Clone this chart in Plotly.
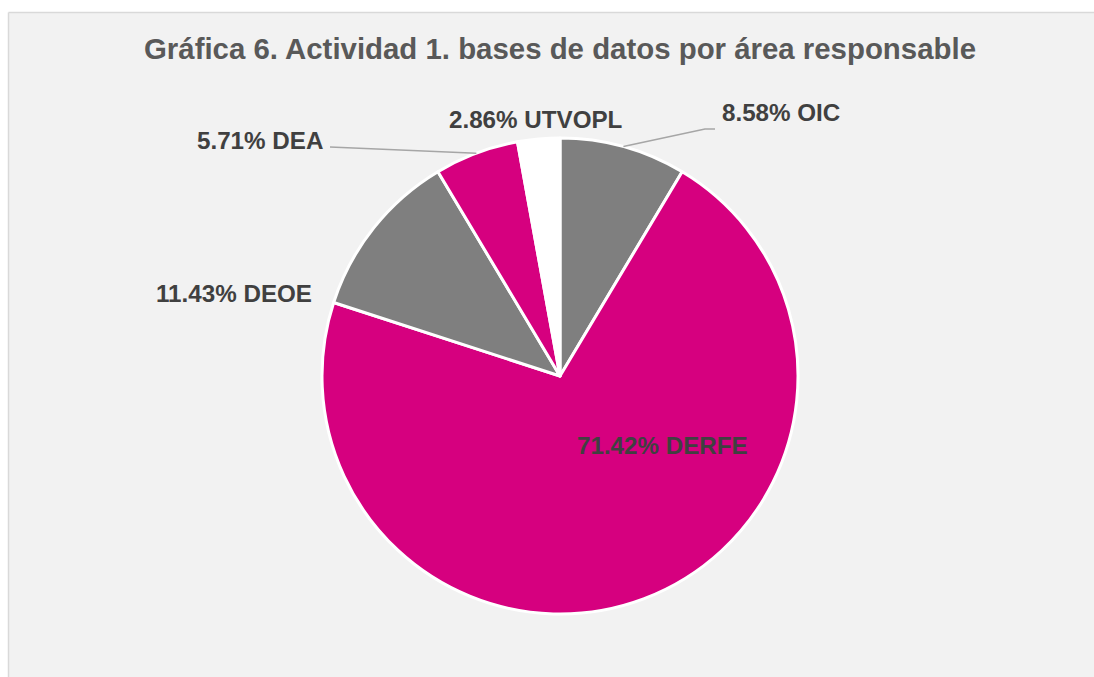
import math
import plotly.graph_objects as go

# ---- data ----
areas = ["OIC", "DERFE", "DEOE", "DEA", "UTVOPL"]
percentages = [8.58, 71.42, 11.43, 5.71, 2.86]
slice_colors = ["#7f7f7f", "#d6007f", "#7f7f7f", "#d6007f", "#ffffff"]
title_text = "Gráfica 6. Actividad 1. bases de datos por área responsable"

# ---- layout constants (page pixels) ----
W, H = 1094, 677
CX, CY, R = 560, 376, 238          # pie centre and radius
label_font = dict(family="Arial, Liberation Sans", size=24.2, color="#404040", weight="bold")

fig = go.Figure()
fig.add_trace(go.Pie(
    labels=areas,
    values=percentages,
    sort=False,
    direction="clockwise",
    rotation=0,
    marker=dict(colors=slice_colors, line=dict(color="#ffffff", width=3)),
    textinfo="none",
    hoverinfo="skip",
    showlegend=False,
    domain=dict(x=[(CX - R) / W, (CX + R) / W],
                y=[(H - CY - R) / H, (H - CY + R) / H]),
))

def px(x, y):
    """page coords -> paper coords"""
    return x / W, 1 - y / H

def mid_anchor(i):
    total = sum(percentages)
    start = sum(percentages[:i])
    frac = (start + percentages[i] / 2) / total
    ang = 2 * math.pi * frac
    return CX + R * math.sin(ang), CY - R * math.cos(ang)

# label placements in page coords: (x, y, xanchor)
label_pos = {
    "OIC": (720, 112, "left"),
    "DERFE": (662, 445, "center"),
    "DEOE": (314, 294, "right"),
    "DEA": (325, 140, "right"),
    "UTVOPL": (536, 120, "center"),
}

annotations = []
for i, name in enumerate(areas):
    x, y, xa = label_pos[name]
    ax, ay = px(x, y)
    annotations.append(dict(
        x=ax, y=ay, xref="paper", yref="paper", xanchor=xa, yanchor="middle",
        text=f"{percentages[i]:.2f}% {name}", showarrow=False, font=label_font,
    ))

tx, ty = px(560, 49)
annotations.append(dict(
    x=tx, y=ty, xref="paper", yref="paper", xanchor="center", yanchor="middle",
    text=title_text, showarrow=False,
    font=dict(family="Arial, Liberation Sans", size=29.4, color="#595959", weight="bold"),
))

lx, ytop = px(8.5, 12.5)
shapes = [
    # white strips above and left of the chart frame
    dict(type="rect", xref="paper", yref="paper", layer="below",
         x0=0, x1=1, y0=ytop, y1=1, fillcolor="#ffffff", line=dict(width=0)),
    dict(type="rect", xref="paper", yref="paper", layer="below",
         x0=0, x1=lx, y0=0, y1=1, fillcolor="#ffffff", line=dict(width=0)),
    # frame edges (top and left)
    dict(type="line", xref="paper", yref="paper", layer="below",
         x0=lx, x1=1, y0=ytop, y1=ytop, line=dict(color="#d9d9d9", width=1.5)),
    dict(type="line", xref="paper", yref="paper", layer="below",
         x0=lx, x1=lx, y0=0, y1=ytop, line=dict(color="#d9d9d9", width=1.5)),
]

# leader lines (anchored at slice mid-angles)
leaders = {
    "OIC": [(705, 129), (715, 129)],
    "DEA": [(330, 147)],
}
for name, pts in leaders.items():
    i = areas.index(name)
    sx, sy = mid_anchor(i)
    path_pts = [(sx, sy)] + pts
    d = "M " + " L ".join(f"{px(x, y)[0]},{px(x, y)[1]}" for x, y in path_pts)
    shapes.append(dict(type="path", xref="paper", yref="paper", path=d,
                       line=dict(color="#a6a6a6", width=1.5)))

fig.update_layout(
    width=W, height=H,
    margin=dict(l=0, r=0, t=0, b=0),
    paper_bgcolor="#f2f2f2",
    annotations=annotations,
    shapes=shapes,
)

fig.write_html(
    "out.html",
    config={"displayModeBar": False},
    post_script="document.body.style.margin='0';"
                "document.documentElement.style.overflow='hidden';",
)
